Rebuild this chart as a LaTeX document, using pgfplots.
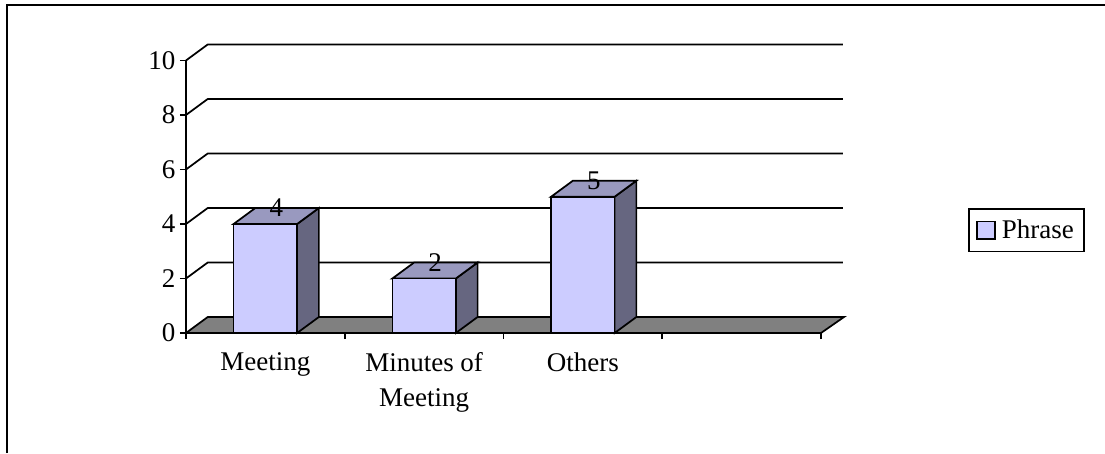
\documentclass[border=0pt]{standalone}
\usepackage{pgfplots}
\pgfplotsset{compat=1.18}
\usepackage{fontspec}
\setmainfont{Liberation Serif}
\definecolor{barfront}{HTML}{CCCCFF}
\definecolor{bartop}{HTML}{9999BF}
\definecolor{barside}{HTML}{666680}
\definecolor{floorgray}{HTML}{808080}
\begin{document}
\begin{tikzpicture}[x=0.75pt,y=0.75pt]
\useasboundingbox (-186,-120) rectangle (919,333);
\begin{axis}[
  at={(0,0)}, anchor=south west,
  scale only axis, width=476.25pt, height=204.4pt,
  xmin=0, xmax=4, ymin=0, ymax=10,
  clip=false,
  axis x line=bottom, axis y line=left,
  axis line style={-, line width=1.3pt, black},
  tick style={line width=1.3pt, black},
  tick align=outside,
  major tick length=4.5pt,
  xtick={0,1,2,3,4}, xticklabels={},
  extra x ticks={0.5,1.5,2.5},
  extra x tick labels={Meeting,{Minutes of\\Meeting},Others},
  extra x tick style={major tick length=0pt, tick label style={align=center, yshift=-11pt, font=\fontsize{20.25}{26}\selectfont}},
  ytick={0,2,4,6,8,10},
  tick label style={font=\fontsize{20.25}{26}\selectfont},
  /pgf/number format/assume math mode=true,
  legend cell align=left,
  legend style={at={(axis cs:4.926,4.587)}, anchor=north west, draw=black, line width=1.3pt,
    font=\fontsize{20.25}{23}\selectfont, inner xsep=5.5pt, inner ysep=6.2pt, row sep=0pt},
]
% back wall grid lines with their diagonals
\addplot[forget plot, line width=1.3pt] coordinates {(0,2) (0.137,2.587) (4.137,2.587)};
\addplot[forget plot, line width=1.3pt] coordinates {(0,4) (0.137,4.587) (4.137,4.587)};
\addplot[forget plot, line width=1.3pt] coordinates {(0,6) (0.137,6.587) (4.137,6.587)};
\addplot[forget plot, line width=1.3pt] coordinates {(0,8) (0.137,8.587) (4.137,8.587)};
\addplot[forget plot, line width=1.3pt] coordinates {(0,10) (0.137,10.587) (4.137,10.587)};
% floor
\addplot[forget plot, fill=floorgray, draw=black, line width=1.3pt] coordinates {(0,0) (0.137,0.587) (4.145,0.587) (4,0)} -- cycle;
% bar 1 side/top
\addplot[forget plot, fill=barside, draw=black, line width=1.3pt] coordinates {(0.7,0) (0.837,0.587) (0.837,4.587) (0.7,4)} -- cycle;
\addplot[forget plot, fill=bartop, draw=black, line width=1.3pt] coordinates {(0.3,4) (0.437,4.587) (0.837,4.587) (0.7,4)} -- cycle;
% bar 2 side/top
\addplot[forget plot, fill=barside, draw=black, line width=1.3pt] coordinates {(1.7,0) (1.837,0.587) (1.837,2.587) (1.7,2)} -- cycle;
\addplot[forget plot, fill=bartop, draw=black, line width=1.3pt] coordinates {(1.3,2) (1.437,2.587) (1.837,2.587) (1.7,2)} -- cycle;
% bar 3 side/top
\addplot[forget plot, fill=barside, draw=black, line width=1.3pt] coordinates {(2.7,0) (2.837,0.587) (2.837,5.587) (2.7,5)} -- cycle;
\addplot[forget plot, fill=bartop, draw=black, line width=1.3pt] coordinates {(2.3,5) (2.437,5.587) (2.837,5.587) (2.7,5)} -- cycle;
% front faces
\addplot[ybar, bar width=0.4, bar shift=0pt, fill=barfront, draw=black, line width=1.3pt,
  area legend,
  legend image code/.code={\draw[fill=barfront, draw=black, line width=1.3pt] (0pt,-6.5pt) rectangle (13.5pt,6.5pt); \path (16pt,0pt);}]
  coordinates {(0.5,4) (1.5,2) (2.5,5)};
\addlegendentry{Phrase}
% value labels on the back edge of the top face
\addplot[forget plot, only marks, mark=none, point meta=explicit symbolic,
  nodes near coords, nodes near coords align={anchor=center},
  every node near coord/.append style={anchor=center, font=\fontsize{20.25}{23}\selectfont, inner sep=0pt}]
  coordinates {(0.5685,4.587) [4] (1.5685,2.587) [2] (2.5685,5.587) [5]};
\end{axis}
\draw[line width=1.5pt] (-179,-120) -- (-179,328) -- (919,328);
\end{tikzpicture}
\end{document}
